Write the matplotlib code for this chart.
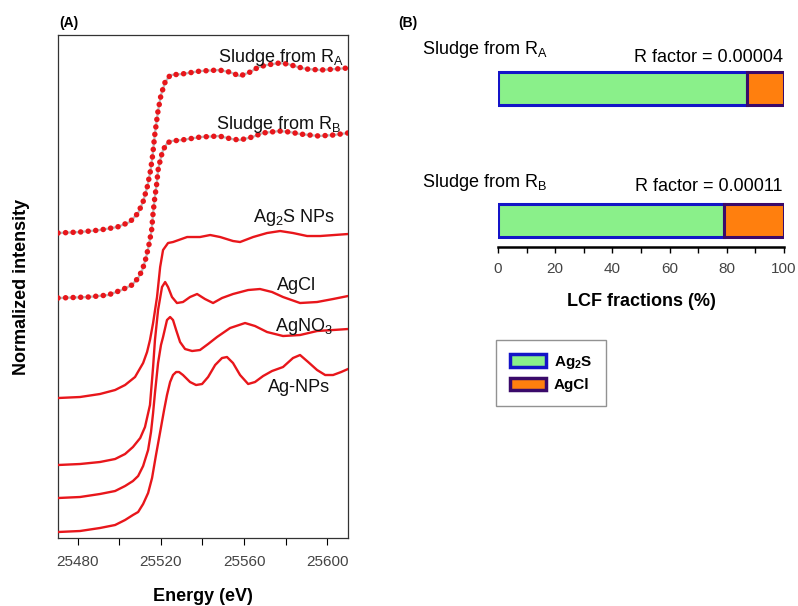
import matplotlib
matplotlib.use("Agg")
import matplotlib.pyplot as plt
from matplotlib.patches import Patch

plt.rcParams['font.family'] = ['Liberation Sans', 'DejaVu Sans']
plt.rcParams['mathtext.fontset'] = 'custom'
plt.rcParams['mathtext.rm'] = 'Liberation Sans'
plt.rcParams['mathtext.it'] = 'Liberation Sans:italic'
plt.rcParams['mathtext.bf'] = 'Liberation Sans:bold'
plt.rcParams['mathtext.default'] = 'regular'

# XANES spectra (stacked, arbitrary offsets)
e_sludge_a = [25470.4, 25481.0, 25490.6, 25499.0, 25505.0, 25509.0, 25511.5, 25513.5, 25515.0, 25516.0,
              25517.0, 25518.5, 25520.0, 25522.0, 25524.5, 25530.0, 25539.0, 25548.0, 25553.0, 25558.0,
              25563.0, 25567.0, 25571.0, 25577.0, 25581.0, 25586.0, 25590.0, 25597.0, 25604.0, 25610.0]
i_sludge_a = [3.05, 3.06, 3.08, 3.11, 3.16, 3.25, 3.37, 3.52, 3.68, 3.83,
              4.03, 4.26, 4.43, 4.56, 4.63, 4.64, 4.67, 4.68, 4.66, 4.62,
              4.66, 4.71, 4.73, 4.75, 4.74, 4.71, 4.69, 4.68, 4.69, 4.70]

e_sludge_b = [25470.4, 25485.0, 25494.5, 25501.0, 25506.0, 25509.0, 25511.0, 25512.5, 25514.0, 25515.5,
              25516.2, 25517.0, 25518.0, 25518.6, 25520.0, 25521.0, 25523.0, 25525.0, 25530.0, 25539.0,
              25548.0, 25554.0, 25558.0, 25564.0, 25569.0, 25577.0, 25582.0, 25587.0, 25596.0, 25603.0, 25610.0]
i_sludge_b = [2.40, 2.41, 2.43, 2.48, 2.53, 2.60, 2.68, 2.78, 2.91, 3.08,
              3.25, 3.40, 3.55, 3.68, 3.81, 3.88, 3.95, 3.97, 3.98, 4.01,
              4.02, 3.99, 3.98, 4.01, 4.05, 4.07, 4.06, 4.04, 4.02, 4.03, 4.05]

e_ag2s = [25470.4, 25481.0, 25490.6, 25497.9, 25502.7, 25507.5, 25511.4, 25513.3, 25514.7, 25516.2,
          25518.1, 25519.6, 25521.0, 25523.4, 25525.8, 25532.6, 25538.8, 25543.7, 25548.5, 25554.7,
          25558.1, 25564.4, 25571.1, 25577.4, 25583.6, 25590.4, 25596.7, 25603.4, 25610.1]
i_ag2s = [1.40, 1.41, 1.44, 1.48, 1.53, 1.61, 1.75, 1.86, 1.98, 2.15,
          2.41, 2.71, 2.88, 2.95, 2.96, 3.01, 3.01, 3.03, 3.01, 2.97,
          2.96, 3.01, 3.05, 3.07, 3.05, 3.02, 3.02, 3.03, 3.04]

e_agcl = [25470.4, 25481.0, 25490.6, 25497.9, 25502.7, 25506.5, 25510.0, 25512.3, 25514.7, 25516.2,
          25517.1, 25518.6, 25520.5, 25522.0, 25523.4, 25525.3, 25527.7, 25530.6, 25534.0, 25537.4,
          25541.2, 25545.1, 25549.4, 25554.7, 25562.0, 25567.7, 25573.5, 25578.8, 25587.0, 25595.2,
          25602.9, 25610.1]
i_agcl = [0.73, 0.74, 0.76, 0.79, 0.84, 0.91, 1.00, 1.11, 1.33, 1.71,
          1.98, 2.28, 2.51, 2.56, 2.51, 2.41, 2.35, 2.36, 2.41, 2.44,
          2.39, 2.35, 2.40, 2.44, 2.48, 2.49, 2.46, 2.41, 2.35, 2.36,
          2.39, 2.42]

e_agno3 = [25470.4, 25481.0, 25490.6, 25497.9, 25502.7, 25506.5, 25509.0, 25511.4, 25513.8, 25515.2,
           25516.2, 25517.1, 25518.6, 25520.0, 25521.0, 25522.9, 25524.4, 25525.8, 25527.3, 25529.2,
           25531.6, 25535.0, 25538.8, 25542.7, 25547.0, 25553.3, 25560.5, 25565.3, 25571.1, 25578.8,
           25587.0, 25595.2, 25602.9, 25610.1]
i_agno3 = [0.40, 0.41, 0.44, 0.47, 0.52, 0.57, 0.62, 0.72, 0.88, 1.06,
           1.25, 1.45, 1.75, 1.93, 2.01, 2.18, 2.21, 2.18, 2.08, 1.96,
           1.89, 1.87, 1.88, 1.94, 2.01, 2.10, 2.15, 2.12, 2.06, 2.02,
           2.03, 2.07, 2.08, 2.09]

e_agnps = [25470.4, 25481.0, 25490.6, 25497.9, 25502.7, 25506.5, 25509.0, 25511.4, 25513.8, 25515.7,
           25517.6, 25519.6, 25521.5, 25522.9, 25524.4, 25525.8, 25527.3, 25528.7, 25530.6, 25534.0,
           25536.9, 25539.8, 25542.7, 25546.1, 25549.4, 25551.8, 25554.7, 25558.1, 25562.0, 25565.3,
           25569.2, 25573.5, 25578.8, 25583.6, 25587.0, 25590.9, 25595.2, 25599.1, 25602.9, 25606.8,
           25610.1]
i_agnps = [0.06, 0.07, 0.10, 0.13, 0.18, 0.23, 0.26, 0.34, 0.45, 0.60,
           0.83, 1.06, 1.28, 1.43, 1.56, 1.63, 1.66, 1.66, 1.63, 1.56,
           1.53, 1.54, 1.61, 1.73, 1.80, 1.81, 1.75, 1.63, 1.54, 1.56,
           1.62, 1.67, 1.71, 1.80, 1.83, 1.76, 1.68, 1.63, 1.63, 1.66,
           1.69]

# LCF results
samples = ['Sludge from R$_\\mathregular{A}$', 'Sludge from R$_\\mathregular{B}$']
frac_ag2s = [87, 79]
frac_agcl = [13, 21]
r_factor = ['0.00004', '0.00011']

red = '#e8161b'
grey_txt = '#444444'

fig = plt.figure(figsize=(7.98, 6.06), dpi=100)

# ---- panel A
ax = fig.add_axes([0.0727, 0.1122, 0.3634, 0.8300])
for e, i in [(e_sludge_a, i_sludge_a), (e_sludge_b, i_sludge_b)]:
    ax.plot(e, i, color='#b8b8b8', lw=1.6, zorder=2)
    ax.plot(e, i, color=red, lw=4.0, linestyle=(0, (0.01, 1.35)),
            dash_capstyle='round', zorder=3)
for e, i in [(e_ag2s, i_ag2s), (e_agcl, i_agcl), (e_agno3, i_agno3), (e_agnps, i_agnps)]:
    ax.plot(e, i, color=red, lw=1.7, zorder=3)

ax.set_xlim(25470.4, 25610.1)
ax.set_ylim(0, 5.03)
ax.set_xticks([25480, 25520, 25560, 25600])
ax.set_xticks([25500, 25540, 25580], minor=True)
ax.set_yticks([])
ax.tick_params(axis='x', which='both', direction='out', length=5, width=0.8,
               labelsize=11, labelcolor=grey_txt, pad=7)
for s in ax.spines.values():
    s.set_linewidth(0.9)
    s.set_color('#333333')
ax.set_xlabel('Energy (eV)', fontsize=13, fontweight='bold', labelpad=14)
ax.set_ylabel('Normalized intensity', fontsize=13, fontweight='bold', labelpad=20)

labels_a = [(25547.5, 4.76, samples[0]), (25546.5, 4.09, samples[1]),
            (25564.4, 3.16, 'Ag$_\\mathregular{2}$S NPs'), (25575.9, 2.48, 'AgCl'),
            (25575.0, 2.07, 'AgNO$_\\mathregular{3}$'), (25571.6, 1.46, 'Ag-NPs')]
for x, y, t in labels_a:
    ax.text(x, y, t, fontsize=13, ha='left', va='baseline', color='#111111', zorder=5)

fig.text(0.074, 0.962, '(A)', fontsize=10, fontweight='bold', va='center')
fig.text(0.499, 0.962, '(B)', fontsize=10, fontweight='bold', va='center')

# ---- panel B
bx = fig.add_axes([0.6241, 0.5924, 0.3584, 0.3416])
ypos = [1, 0]
c_ag2s, e_ag2s_col = '#8af08a', '#1414c8'
c_agcl, e_agcl_col = '#ff7f0e', '#3a0a6a'
bx.barh(ypos, frac_ag2s, height=0.25, color=c_ag2s, edgecolor=e_ag2s_col, linewidth=2.2)
bx.barh(ypos, frac_agcl, left=frac_ag2s, height=0.25, color=c_agcl,
        edgecolor=e_agcl_col, linewidth=2.2)
bx.set_xlim(0, 100)
bx.set_ylim(-0.2, 1.37)
for side in ['left', 'right', 'top']:
    bx.spines[side].set_visible(False)
bx.spines['bottom'].set_linewidth(1.8)
bx.set_yticks([])
bx.set_xticks(range(0, 101, 20))
bx.set_xticks(range(10, 100, 20), minor=True)
bx.tick_params(axis='x', which='both', direction='out', length=4, width=1.0,
               labelsize=11, labelcolor=grey_txt, pad=7)
bx.set_xlabel('LCF fractions (%)', fontsize=13, fontweight='bold', labelpad=12)
bx.patch.set_alpha(0)

for name, rf, yname, yrf in [(samples[0], r_factor[0], 1.261, 1.20),
                             (samples[1], r_factor[1], 0.254, 0.223)]:
    bx.text(-26.6, yname, name, fontsize=13, ha='left', va='baseline')
    bx.text(99.5, yrf, 'R factor = ' + rf, fontsize=13, ha='right', va='baseline')

handles = [Patch(facecolor=c_ag2s, edgecolor=e_ag2s_col, linewidth=2.5, label='Ag$_\\mathbf{2}$S'),
           Patch(facecolor=c_agcl, edgecolor=e_agcl_col, linewidth=2.5, label='AgCl')]
leg = fig.legend(handles=handles, loc='upper left', bbox_to_anchor=(0.6216, 0.439),
                 frameon=True, fancybox=False, edgecolor='#777777',
                 prop={'weight': 'bold', 'size': 11}, handlelength=2.4, handleheight=0.9,
                 borderpad=0.9, labelspacing=0.45, handletextpad=0.5, borderaxespad=0)
leg.get_frame().set_linewidth(1.0)

fig.savefig('out.png', dpi=100)
